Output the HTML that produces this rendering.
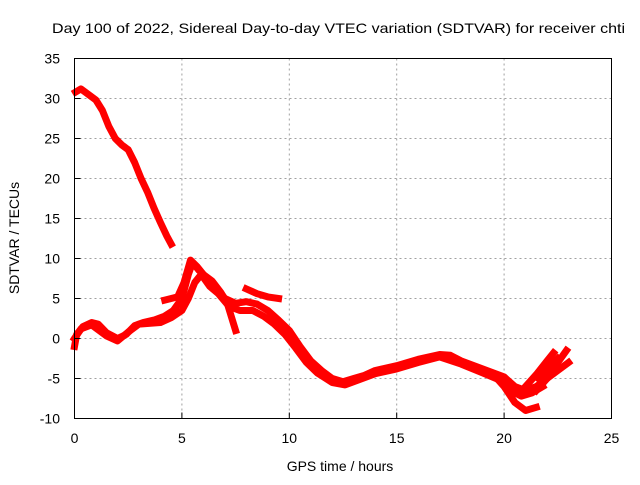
<!DOCTYPE html>
<html><head><meta charset="utf-8"><style>
html,body{margin:0;padding:0;background:#fff;}
svg text{font-family:"Liberation Sans",sans-serif;font-size:14px;fill:#000;}
</style></head><body>
<svg id="chart" width="640" height="480" viewBox="0 0 640 480" xmlns="http://www.w3.org/2000/svg">
<rect width="640" height="480" fill="#fff"/>
<text x="52" y="33" textLength="573" lengthAdjust="spacingAndGlyphs">Day 100 of 2022, Sidereal Day-to-day VTEC variation (SDTVAR) for receiver chti</text>
<g id="grid"></g>
<g id="series"></g>
<rect x="74.5" y="58.5" width="537" height="360" fill="none" stroke="#000" stroke-width="1"/>
<g id="ticks"></g>
<text transform="translate(19,238) rotate(-90)" text-anchor="middle">SDTVAR / TECUs</text>
<text x="340" y="471" text-anchor="middle">GPS time / hours</text>
</svg>
<script>
const xTicks=[0,5,10,15,20,25];
const yTicks=[-10,-5,0,5,10,15,20,25,30,35];
const trackA=[[0.05,30.8],[0.3,31.2],[0.6,30.6],[1,29.8],[1.3,28.5],[1.6,26.5],[1.9,25],[2.2,24.2],[2.5,23.6],[2.8,22],[3.1,20],[3.4,18.3],[3.7,16.3],[4,14.5],[4.3,12.8],[4.5,11.8]];
const trackB=[[0,-1],[0.1,0.5],[0.4,1.5],[0.8,2],[1.1,1.8],[1.5,0.7],[2,0],[2.4,0.5],[2.8,1.6],[3.2,2],[3.7,2.3],[4.2,2.8],[4.6,3.5],[5,5],[5.3,8],[5.5,9.5],[5.8,8.5],[6.2,7.5],[6.6,6.3],[7,5],[7.5,4.4],[8,4.6],[8.5,4.3],[9,3.5],[9.5,2.3],[10,1],[10.5,-1],[11,-2.8],[11.5,-4],[12,-5],[12.5,-5.4],[13,-5],[13.5,-4.6],[14,-4],[15,-3.4],[16,-2.6],[17,-2],[17.5,-2.1],[18,-2.8],[19,-3.8],[20,-4.8],[20.5,-6],[21,-6.5],[21.5,-6],[22,-5],[22.5,-4],[23,-3]];
const trackC=[[0,0],[0.3,1.2],[0.8,1.7],[1.5,0.3],[2,-0.3],[2.5,0.8],[3,1.8],[4,2],[4.5,2.6],[5,3.5],[5.3,5],[5.6,7],[5.9,8],[6.3,6.5],[6.7,5.6],[7.2,4],[7.7,3.5],[8.3,3.5],[8.8,2.8],[9.3,1.8],[9.8,0.5],[10.3,-1.2],[10.8,-3],[11.3,-4.3],[12,-5.5],[12.6,-5.8],[13.2,-5.2],[14,-4.4],[15,-3.8],[16,-3],[17,-2.3],[18,-3.2],[19,-4.3],[19.8,-5.2],[20.3,-6.5],[20.8,-7.2],[21.3,-6.8],[21.8,-6]];
const trackD=[[4.2,4.8],[4.8,5.2],[5.1,7],[5.4,9.8],[5.7,9],[6,8],[6.4,7.2],[6.8,5.8],[7.1,4.5],[7.5,1]];
const trackE=[[8,6.2],[8.5,5.6],[9,5.2],[9.5,5]];
const trackF=[[19.5,-4.5],[20,-6],[20.5,-8],[21,-9],[21.5,-8.6]];
const trackG=[[21,-6],[21.5,-4.5],[22,-2.8],[22.3,-1.8]];
const trackH=[[21.5,-6.5],[22,-5],[22.5,-3],[22.9,-1.5]];
const trackI=[[21.6,-5],[22,-3.8],[22.5,-2.5]];
const tracks=[trackA,trackB,trackC,trackD,trackE,trackF,trackG,trackH,trackI];
const NS='http://www.w3.org/2000/svg';
const X=v=>74.5+v*21.48, Y=v=>338.5-v*8;
const grid=document.getElementById('grid'),ticks=document.getElementById('ticks'),ser=document.getElementById('series');
function mk(t,a,p){const e=document.createElementNS(NS,t);for(const k in a)e.setAttribute(k,a[k]);p.appendChild(e);return e;}
xTicks.forEach(v=>{
 if(v>0&&v<25){const g=mk('line',{x1:X(v),x2:X(v),y1:58.5,y2:418.5,stroke:'#a0a0a0','stroke-dasharray':'2,3'},grid);
 
 }
 const t=mk('line',{x1:X(v),x2:X(v),y1:418.5,y2:412.5,stroke:'#000'},ticks);
 
 
 const l=mk('text',{x:X(v),y:443,'text-anchor':'middle'},ticks);l.textContent=v;
 
 
});
yTicks.forEach(v=>{
 if(v>-10&&v<35){const g=mk('line',{x1:74.5,x2:611.5,y1:Y(v),y2:Y(v),stroke:'#a0a0a0','stroke-dasharray':'2,3'},grid);
 
 }
 const t=mk('line',{x1:74.5,x2:80.5,y1:Y(v),y2:Y(v),stroke:'#000'},ticks);
 
 
 const l=mk('text',{x:60,y:Y(v)+5,'text-anchor':'end'},ticks);l.textContent=v;
 
 
});
tracks.forEach((tr,i)=>{
 const p=mk('polyline',{points:tr.map(d=>X(d[0])+','+Y(d[1])).join(' '),fill:'none',stroke:'#f00','stroke-width':7,'stroke-linejoin':'round','stroke-linecap':'square'},ser);
 
 
});
</script>
</body></html>
